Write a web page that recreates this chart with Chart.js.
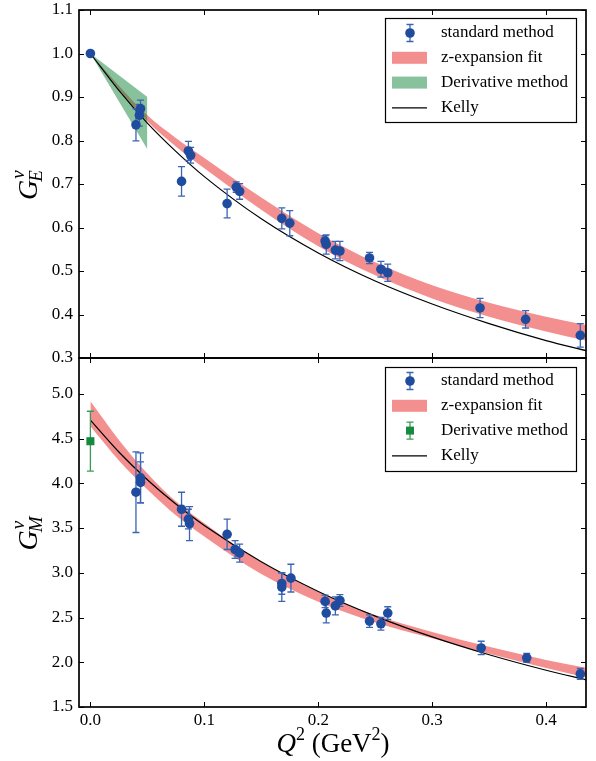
<!DOCTYPE html>
<html><head><meta charset="utf-8">
<script src="https://cdn.jsdelivr.net/npm/chart.js@4.4.1/dist/chart.umd.min.js"></script>
<style>
html,body{margin:0;padding:0;background:#fff;}
#wrap{position:relative;width:596px;height:761px;background:#fff;}
canvas{position:absolute;left:0;top:0;}
</style></head><body>
<div id="wrap"><canvas id="cE" width="596" height="761"></canvas><canvas id="cM" width="596" height="761"></canvas></div>
<script>
// ---------- data ----------
const xTicks = [0.0, 0.1, 0.2, 0.3, 0.4];
const yTicksE = [0.3, 0.4, 0.5, 0.6, 0.7, 0.8, 0.9, 1.0, 1.1];
const yTicksM = [1.5, 2.0, 2.5, 3.0, 3.5, 4.0, 4.5, 5.0];

const legendLabels = ["standard method", "z-expansion fit", "Derivative method", "Kelly"];

// standard method, G_E^v
const q2E  = [0, 0.040, 0.043, 0.044, 0.080, 0.086, 0.088, 0.120, 0.128, 0.131, 0.168, 0.175, 0.206, 0.207, 0.215, 0.219, 0.245, 0.255, 0.261, 0.342, 0.382, 0.430];
const gE   = [1.000, 0.836, 0.858, 0.873, 0.706, 0.776, 0.766, 0.655, 0.693, 0.683, 0.621, 0.610, 0.569, 0.561, 0.548, 0.546, 0.530, 0.504, 0.496, 0.415, 0.389, 0.352];
const gEerr= [0.005, 0.037, 0.025, 0.020, 0.034, 0.022, 0.018, 0.033, 0.012, 0.018, 0.024, 0.029, 0.012, 0.022, 0.020, 0.022, 0.013, 0.018, 0.020, 0.022, 0.020, 0.027];

// standard method, G_M^v
const q2M  = [0.040, 0.044, 0.044, 0.080, 0.086, 0.087, 0.120, 0.127, 0.131, 0.168, 0.168, 0.176, 0.206, 0.207, 0.215, 0.219, 0.245, 0.255, 0.261, 0.343, 0.383, 0.430];
const gM   = [3.90, 4.06, 4.01, 3.71, 3.60, 3.55, 3.43, 3.26, 3.22, 2.88, 2.84, 2.94, 2.68, 2.55, 2.63, 2.69, 2.46, 2.43, 2.55, 2.16, 2.05, 1.87];
const gMerr= [0.45, 0.28, 0.23, 0.19, 0.11, 0.19, 0.17, 0.10, 0.10, 0.12, 0.16, 0.155, 0.07, 0.11, 0.10, 0.065, 0.07, 0.07, 0.07, 0.075, 0.05, 0.06];

// curves on a Q^2 grid
const q2Grid    = [0, 0.025, 0.05, 0.075, 0.1, 0.15, 0.2, 0.25, 0.3, 0.35, 0.4, 0.435];
const kellyE    = [1.000, 0.915, 0.840, 0.775, 0.717, 0.620, 0.5415, 0.477, 0.424, 0.379, 0.340, 0.317];
const bandEUp   = [1.000, 0.926, 0.858, 0.806, 0.760, 0.669, 0.587, 0.520, 0.467, 0.427, 0.395, 0.376];
const bandELow  = [1.000, 0.918, 0.844, 0.786, 0.736, 0.641, 0.557, 0.490, 0.437, 0.395, 0.361, 0.340];
const kellyM    = [4.706, 4.350, 4.040, 3.769, 3.529, 3.123, 2.791, 2.516, 2.283, 2.084, 1.911, 1.804];
const bandMUp   = [4.916, 4.485, 4.110, 3.798, 3.554, 3.121, 2.786, 2.528, 2.339, 2.172, 2.026, 1.939];
const bandMLow  = [4.636, 4.255, 3.930, 3.642, 3.404, 2.985, 2.676, 2.444, 2.267, 2.096, 1.936, 1.829];

// derivative method
const q2Der     = [0, 0.05];
const derEUp    = [1.00, 0.90];
const derELow   = [1.00, 0.78];
const q2DerM    = [0];
const derM      = [4.47];
const derMerr   = [0.335];

// ---------- styling ----------
const FONT = '"Liberation Serif", "DejaVu Serif", serif';
const BLUE = '#1f4c9f', ERRBLUE = '#3a64b4';
const RED = 'rgba(233,31,31,0.5)';
const GREEN = 'rgba(17,133,57,0.5)';
const DGREEN = '#168a3e', ERRGREEN = '#3a9a5c';
Chart.defaults.font.family = FONT;

const pts = (xs, ys) => xs.map((x, i) => ({x: x, y: ys[i]}));
const clear = 'rgba(0,0,0,0)';

function bandSets(xs, up, low, color, order, mono) {
  const common = {pointRadius: 0, borderWidth: 0, borderColor: clear, order: order,
    cubicInterpolationMode: mono ? 'monotone' : 'default', tension: 0};
  return [Object.assign({data: pts(xs, up), fill: '+1', backgroundColor: color}, common),
          Object.assign({data: pts(xs, low), fill: false, backgroundColor: clear}, common)];
}

const errPlugin = {
  id: 'errbars',
  beforeDatasetDraw(chart, args) {
    const ds = chart.data.datasets[args.index];
    if (!ds.errs) return;
    const ctx = chart.ctx, ys = chart.scales.y, a = chart.chartArea;
    ctx.save();
    ctx.beginPath(); ctx.rect(a.left, a.top, a.right - a.left, a.bottom - a.top); ctx.clip();
    ctx.strokeStyle = ds.errColor; ctx.lineWidth = 1.3;
    args.meta.data.forEach((el, i) => {
      const v = ds.data[i].y, e = ds.errs[i];
      const y0 = ys.getPixelForValue(v - e), y1 = ys.getPixelForValue(v + e);
      ctx.beginPath();
      ctx.moveTo(el.x, y0); ctx.lineTo(el.x, y1);
      ctx.moveTo(el.x - 3.5, y0); ctx.lineTo(el.x + 3.5, y0);
      ctx.moveTo(el.x - 3.5, y1); ctx.lineTo(el.x + 3.5, y1);
      ctx.stroke();
    });
    ctx.restore();
  }
};

function framePlugin(cfg) {
  return {
    id: 'frame',
    afterDatasetsDraw(chart) {
      const ctx = chart.ctx, a = chart.chartArea, xs = chart.scales.x, ys = chart.scales.y;
      ctx.save();
      ctx.strokeStyle = '#000'; ctx.lineWidth = 1;
      ctx.beginPath();
      xTicks.forEach(v => {
        const p = Math.round(xs.getPixelForValue(v)) + 0.5;
        ctx.moveTo(p, a.bottom); ctx.lineTo(p, a.bottom - 5);
        ctx.moveTo(p, a.top); ctx.lineTo(p, a.top + 5);
      });
      cfg.yTicks.forEach(v => {
        const p = Math.round(ys.getPixelForValue(v)) + 0.5;
        ctx.moveTo(a.left, p); ctx.lineTo(a.left + 5, p);
        ctx.moveTo(a.right, p); ctx.lineTo(a.right - 5, p);
      });
      ctx.stroke();
      ctx.lineWidth = 1.7;
      ctx.strokeRect(a.left, a.top, a.right - a.left, a.bottom - a.top);
      ctx.restore();
    },
    afterDraw(chart) {
      const ctx = chart.ctx, a = chart.chartArea;
      ctx.save();
      ctx.fillStyle = '#000';
      // y axis title  G_sub^v
      const cy = (a.top + a.bottom) / 2;
      ctx.translate(37, cy); ctx.rotate(-Math.PI / 2);
      ctx.textBaseline = 'alphabetic'; ctx.textAlign = 'left';
      ctx.font = 'italic 28px ' + FONT; const wG = ctx.measureText('G').width;
      ctx.font = 'italic 19px ' + FONT;
      const wS = Math.max(ctx.measureText(cfg.sub).width, ctx.measureText('v').width);
      const x0 = -(wG + wS) / 2;
      ctx.font = 'italic 28px ' + FONT; ctx.fillText('G', x0, 0);
      ctx.font = 'italic 19px ' + FONT;
      ctx.fillText('v', x0 + wG + 1, -13);
      ctx.fillText(cfg.sub, x0 + wG - 2, 5);
      ctx.restore();

      // legend
      const L = cfg.legend;
      ctx.save();
      ctx.fillStyle = '#fff'; ctx.fillRect(L.x, L.y, L.w, L.h);
      ctx.strokeStyle = '#000'; ctx.lineWidth = 1.2; ctx.strokeRect(L.x + 0.5, L.y + 0.5, L.w, L.h);
      ctx.font = '17px ' + FONT; ctx.textBaseline = 'middle'; ctx.textAlign = 'left'; ctx.fillStyle = '#000';
      const hx = L.x + 25, tx = L.x + 56;
      legendLabels.forEach((lab, i) => {
        const yy = L.y + L.off + i * 24.8;
        if (i === 0 || (i === 2 && cfg.derPoint)) {
          const col = i === 0 ? ERRBLUE : ERRGREEN;
          ctx.strokeStyle = col; ctx.lineWidth = 1.3;
          ctx.beginPath();
          ctx.moveTo(hx, yy - 8.5); ctx.lineTo(hx, yy + 8.5);
          ctx.moveTo(hx - 3.5, yy - 8.5); ctx.lineTo(hx + 3.5, yy - 8.5);
          ctx.moveTo(hx - 3.5, yy + 8.5); ctx.lineTo(hx + 3.5, yy + 8.5);
          ctx.stroke();
          if (i === 0) { ctx.fillStyle = BLUE; ctx.beginPath(); ctx.arc(hx, yy, 4.8, 0, 2 * Math.PI); ctx.fill(); }
          else { ctx.fillStyle = DGREEN; ctx.fillRect(hx - 4, yy - 4, 8, 8); }
        } else if (i === 1 || i === 2) {
          ctx.fillStyle = i === 1 ? RED : GREEN;
          ctx.fillRect(L.x + 7, yy - 6, 35, 12);
        } else {
          ctx.strokeStyle = '#000'; ctx.lineWidth = 1.2;
          ctx.beginPath(); ctx.moveTo(L.x + 7, yy + 0.5); ctx.lineTo(L.x + 42, yy + 0.5); ctx.stroke();
        }
        ctx.fillStyle = '#000';
        ctx.fillText(lab, tx, yy);
      });
      ctx.restore();

      // x axis title
      if (cfg.xTitle) {
        ctx.save(); ctx.fillStyle = '#000'; ctx.textBaseline = 'alphabetic'; ctx.textAlign = 'left';
        const parts = [['Q', 'italic 27px ', 0], ['2', '18px ', -12], [' (GeV', '27px ', 0], ['2', '18px ', -12], [')', '27px ', 0]];
        let w = 0;
        parts.forEach(p => { ctx.font = p[1] + FONT; w += ctx.measureText(p[0]).width; });
        let x = 333 - w / 2; const base = 752;
        parts.forEach(p => { ctx.font = p[1] + FONT; ctx.fillText(p[0], x, base + p[2]); x += ctx.measureText(p[0]).width; });
        ctx.restore();
      }
    }
  };
}

function makeChart(id, cfg) {
  return new Chart(document.getElementById(id), {
    type: 'line',
    data: {datasets: cfg.datasets},
    options: {
      responsive: false, animation: false, devicePixelRatio: 1,
      layout: {padding: cfg.padding},
      plugins: {legend: {display: false}, tooltip: {enabled: false}},
      scales: {
        x: {type: 'linear', min: -0.01, max: 0.435,
            grid: {display: false, drawTicks: false}, border: {display: false},
            ticks: {display: cfg.showX, autoSkip: false, maxRotation: 0, padding: 3, color: '#000',
                    font: {size: 17, family: FONT}, callback: v => Number(v).toFixed(1)},
            afterBuildTicks: s => { s.ticks = xTicks.map(v => ({value: v})); },
            afterFit: s => { s.height = cfg.xHeight; s.paddingLeft = 0; s.paddingRight = 0; }},
        y: {type: 'linear', min: cfg.ymin, max: cfg.ymax,
            grid: {display: false, drawTicks: false}, border: {display: false},
            ticks: {autoSkip: false, padding: 6, color: '#000',
                    font: {size: 17, family: FONT}, callback: v => Number(v).toFixed(1)},
            afterBuildTicks: s => { s.ticks = cfg.yTicks.map(v => ({value: v})); },
            afterFit: s => { s.width = 79; s.paddingTop = 0; s.paddingBottom = 0; }}
      }
    },
    plugins: [errPlugin, framePlugin(cfg)]
  });
}

// ---------- top panel: G_E^v ----------
makeChart('cE', {
  padding: {left: 0, right: 10, top: 10, bottom: 403},
  xHeight: 0, showX: false, ymin: 0.3, ymax: 1.1, yTicks: yTicksE, sub: 'E', derPoint: false,
  legend: {x: 385, y: 18, w: 191, h: 104, off: 15}, xTitle: false,
  datasets: [
    ...bandSets(q2Grid, bandEUp, bandELow, RED, 6, true),
    ...bandSets(q2Der, derEUp, derELow, GREEN, 5, false),
    {data: pts(q2Grid, kellyE), borderColor: '#000', borderWidth: 1.2, pointRadius: 0, fill: false,
     cubicInterpolationMode: 'monotone', order: 2},
    {data: pts(q2E, gE), errs: gEerr, errColor: ERRBLUE, showLine: false, pointRadius: 4.8,
     pointBackgroundColor: BLUE, pointBorderWidth: 0, borderColor: BLUE, order: 1}
  ]
});

// ---------- bottom panel: G_M^v ----------
makeChart('cM', {
  padding: {left: 0, right: 10, top: 358, bottom: 24},
  xHeight: 30, showX: true, ymin: 1.5, ymax: 5.4, yTicks: yTicksM, sub: 'M', derPoint: true,
  legend: {x: 385, y: 367, w: 191, h: 104, off: 14}, xTitle: true,
  datasets: [
    ...bandSets(q2Grid, bandMUp, bandMLow, RED, 6, true),
    {data: pts(q2Grid, kellyM), borderColor: '#000', borderWidth: 1.2, pointRadius: 0, fill: false,
     cubicInterpolationMode: 'monotone', order: 2},
    {data: pts(q2DerM, derM), errs: derMerr, errColor: ERRGREEN, showLine: false, pointRadius: 5.7,
     pointStyle: 'rect', pointBackgroundColor: DGREEN, pointBorderWidth: 0, borderColor: DGREEN, order: 1},
    {data: pts(q2M, gM), errs: gMerr, errColor: ERRBLUE, showLine: false, pointRadius: 4.8,
     pointBackgroundColor: BLUE, pointBorderWidth: 0, borderColor: BLUE, order: 1}
  ]
});
</script>
</body></html>
